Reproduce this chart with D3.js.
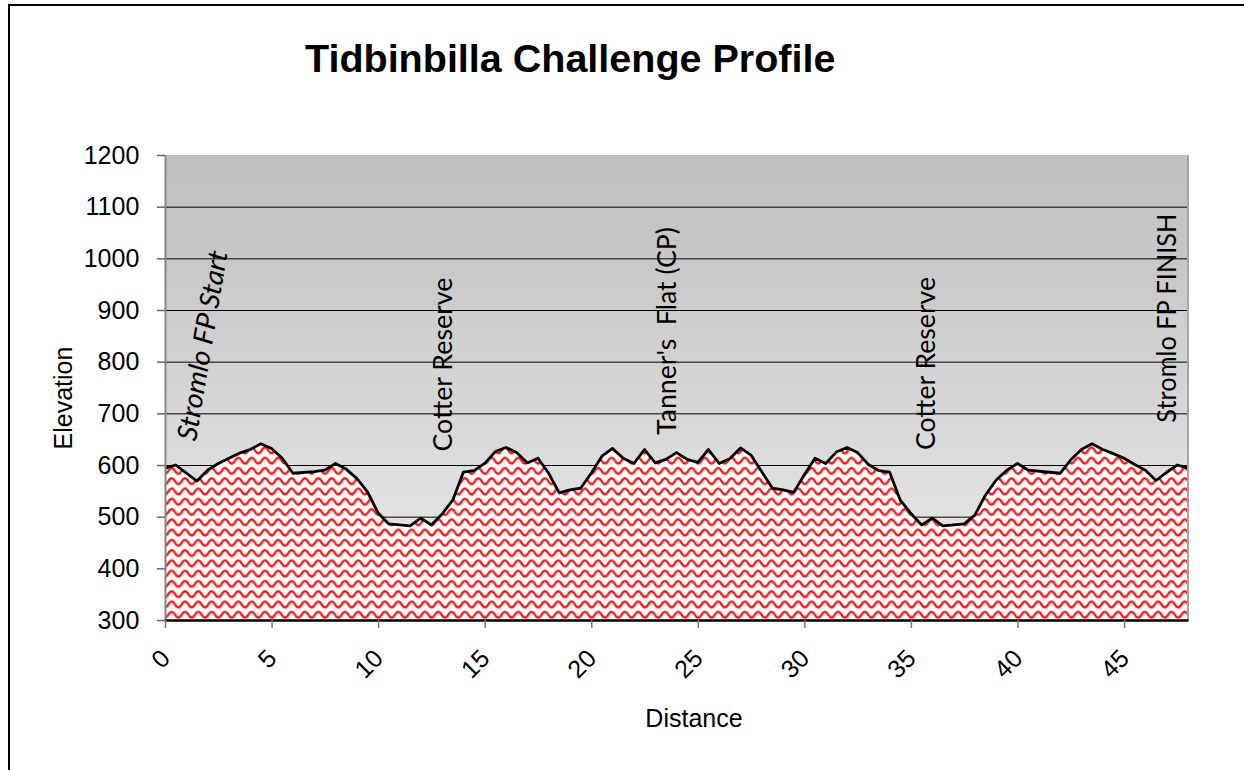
<!DOCTYPE html>
<html><head><meta charset="utf-8">
<script src="https://cdn.jsdelivr.net/npm/d3@7"></script>
<style>
body{margin:0;background:#fff;}
svg{display:block;}
</style>
</head><body>
<svg id="chart" width="1244" height="770"></svg>
<script>
// ---------- data ----------
const chartTitle = "Tidbinbilla Challenge Profile";
const xTitle = "Distance";
const yTitle = "Elevation";
const distanceKm = [0, 0.5, 1.5, 2, 2.5, 3, 3.5, 4, 4.5, 5, 5.5, 6, 7, 7.5, 8, 8.5, 9, 9.5, 10, 10.5,
  11.5, 12, 12.5, 13, 13.5, 14, 14.5, 15, 15.5, 16, 16.5, 17, 17.5, 18, 18.5, 19, 19.5, 20, 20.5, 21,
  21.5, 22, 22.5, 23, 23.5, 24, 24.5, 25, 25.5, 26, 26.5, 27, 27.5, 28, 28.5, 29, 29.5, 30, 30.5, 31,
  31.5, 32, 32.5, 33, 33.5, 34, 34.5, 35, 35.5, 36, 36.5, 37.5, 38, 38.5, 39, 39.5, 40, 40.5, 41.5, 42,
  42.5, 43, 43.5, 44, 44.5, 45, 45.5, 46, 46.5, 47, 47.5, 48];
const elevationM = [594, 600, 569, 590, 603, 613, 623, 630, 641, 632, 613, 584, 587, 590, 603, 592, 574, 548, 507, 486,
  482, 497, 484, 505, 532, 586, 589, 603, 626, 634, 624, 604, 613, 584, 546, 552, 555, 584, 617, 632,
  613, 603, 630, 604, 611, 624, 611, 605, 630, 603, 612, 633, 619, 587, 555, 552, 547, 581, 613, 603,
  625, 634, 624, 601, 589, 586, 532, 506, 484, 497, 482, 486, 503, 542, 571, 590, 603, 590, 586, 584,
  610, 630, 641, 630, 622, 613, 601, 590, 570, 586, 600, 594];
const yTicks = [300, 400, 500, 600, 700, 800, 900, 1000, 1100, 1200];
const xTicks = [0, 5, 10, 15, 20, 25, 30, 35, 40, 45];
const landmarkNames = ["Stromlo FP Start", "Cotter Reserve", "Tanner's  Flat (CP)", "Cotter Reserve", "Stromlo FP FINISH"];
const landmarkKm = [1.45, 13.45, 23.96, 36.11, 47.42];

// ---------- layout ----------
const W = 1244, H = 770;
const plot = {left: 165, right: 1188, top: 155, bottom: 620};
const labelLayout = [
  {elev: 645, angle: -80.5, len: 192, italic: true},
  {elev: 626, angle: -90, len: 174, italic: false},
  {elev: 658, angle: -90, len: 208, italic: false},
  {elev: 629, angle: -90, len: 173, italic: false},
  {elev: 682, angle: -90, len: 209, italic: false}
];

const svg = d3.select("#chart");
const x = d3.scaleLinear().domain([0, 48]).range([plot.left, plot.right]);
const y = d3.scaleLinear().domain([300, 1200]).range([plot.bottom, plot.top]);
const data = distanceKm.map((d, i) => ({km: d, el: elevationM[i]}));

const defs = svg.append("defs");
const grad = defs.append("linearGradient").attr("id", "bg").attr("x1", 0).attr("y1", 0).attr("x2", 0).attr("y2", 1);
grad.append("stop").attr("offset", "0%").attr("stop-color", "#c0c0c0");
grad.append("stop").attr("offset", "12%").attr("stop-color", "#c3c3c3");
grad.append("stop").attr("offset", "100%").attr("stop-color", "#ececec");

const pw = 13.33, ph = 10.27;
const pat = defs.append("pattern").attr("id", "wave").attr("patternUnits", "userSpaceOnUse")
  .attr("x", plot.left).attr("y", plot.bottom).attr("width", pw).attr("height", ph);
pat.append("rect").attr("width", pw).attr("height", ph).attr("fill", "#fff");
pat.append("path")
  .attr("d", `M${-pw/2},2.2 C${-pw/4},2.2 ${-pw/4},7.8 0,7.8 C${pw/4},7.8 ${pw/4},2.2 ${pw/2},2.2 C${3*pw/4},2.2 ${3*pw/4},7.8 ${pw},7.8 C${5*pw/4},7.8 ${5*pw/4},2.2 ${3*pw/2},2.2`)
  .attr("fill", "none").attr("stroke", "#ff0000").attr("stroke-width", 2.3).attr("stroke-opacity", 0.92);

// outer chart border
svg.append("path").attr("d", `M9,${H} L9,5 L${W},5`).attr("fill", "none").attr("stroke", "#000").attr("stroke-width", 2);

// title
svg.append("text").attr("x", 305).attr("y", 71.7)
  .attr("font-family", "'Liberation Sans', Arial, sans-serif").attr("font-weight", "bold")
  .attr("font-size", 39.5).attr("fill", "#000").text(chartTitle);

// plot background
svg.append("rect").attr("x", plot.left).attr("y", plot.top)
  .attr("width", plot.right - plot.left).attr("height", plot.bottom - plot.top).attr("fill", "url(#bg)");

// gridlines
svg.append("g").attr("transform", `translate(${plot.left},0)`)
  .call(d3.axisLeft(y).tickValues(yTicks.filter(v => v > 300 && v < 1200)).tickSize(-(plot.right - plot.left)).tickFormat(""))
  .call(g => g.select(".domain").remove())
  .call(g => g.selectAll("line").attr("stroke", "#000").attr("stroke-width", 1));

// area + line
const area = d3.area().x(d => x(d.km)).y0(y(300)).y1(d => y(d.el));
svg.append("path").datum(data).attr("d", area).attr("fill", "url(#wave)");
const line = d3.line().x(d => x(d.km)).y(d => y(d.el));
svg.append("path").datum(data).attr("d", line).attr("fill", "none")
  .attr("stroke", "#000").attr("stroke-width", 2.8).attr("stroke-linejoin", "round");

// right plot border
svg.append("line").attr("x1", plot.right).attr("x2", plot.right).attr("y1", plot.top).attr("y2", plot.bottom)
  .attr("stroke", "#a6a6a6").attr("stroke-width", 2);

// y axis
const yAx = svg.append("g").attr("transform", `translate(${plot.left},0)`)
  .call(d3.axisLeft(y).tickValues(yTicks).tickFormat(d3.format("d")).tickSize(8).tickPadding(17.7).tickSizeOuter(0));
yAx.select(".domain").attr("stroke", "#868686").attr("stroke-width", 2);
yAx.selectAll(".tick line").attr("stroke", "#666").attr("stroke-width", 1.5);
yAx.selectAll("text").attr("font-family", "'Liberation Sans', Arial, sans-serif").attr("font-size", 25).attr("fill", "#000");

// x axis
const xAx = svg.append("g").attr("transform", `translate(0,${plot.bottom})`)
  .call(d3.axisBottom(x).tickValues(xTicks).tickSize(8).tickSizeOuter(0));
xAx.select(".domain").attr("stroke", "#000").attr("stroke-width", 2.6);
xAx.selectAll(".tick line").attr("stroke", "#777").attr("stroke-width", 1.5);
xAx.selectAll(".tick text")
  .attr("font-family", "'Liberation Sans', Arial, sans-serif").attr("font-size", 25).attr("fill", "#000")
  .attr("text-anchor", "end").attr("dy", null).attr("y", null)
  .attr("transform", "translate(6,40) rotate(-45)");

// axis titles
svg.append("text").attr("x", 694).attr("y", 727.3).attr("text-anchor", "middle")
  .attr("font-family", "'Liberation Sans', Arial, sans-serif").attr("font-size", 25).text(xTitle);
svg.append("text").attr("transform", "translate(71.7,398) rotate(-90)").attr("text-anchor", "middle")
  .attr("font-family", "'Liberation Sans', Arial, sans-serif").attr("font-size", 25).text(yTitle);

// landmark labels
landmarkNames.forEach((name, i) => {
  const L = labelLayout[i];
  svg.append("text")
    .attr("transform", `translate(${x(landmarkKm[i])},${y(L.elev)}) rotate(${L.angle})`)
    .attr("font-family", "Lato, 'Open Sans', sans-serif").attr("font-size", 27.5)
    .attr("font-style", L.italic ? "italic" : "normal")
    .attr("textLength", L.len).attr("lengthAdjust", "spacingAndGlyphs")
    .style("white-space", "pre").attr("fill", "#000")
    .text(name);
});
</script>
</body></html>
